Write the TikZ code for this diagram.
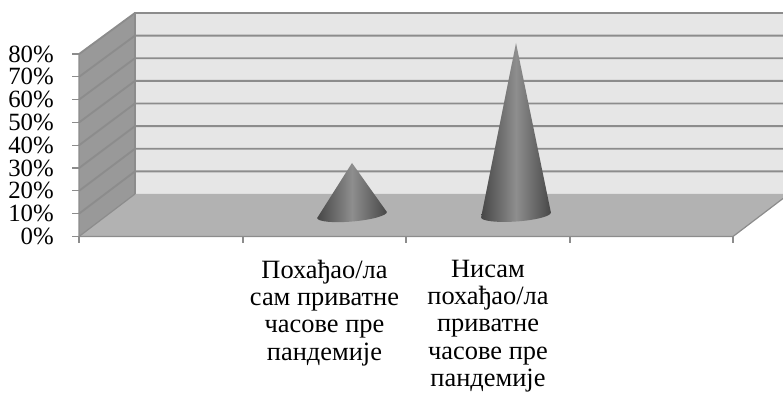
\documentclass[tikz,border=0pt]{standalone}
\usepackage{fontspec}
\setmainfont{Liberation Serif}
\definecolor{backwall}{HTML}{E6E6E6}
\definecolor{sidewall}{HTML}{999999}
\definecolor{floorgray}{HTML}{B2B2B2}
\definecolor{gridgray}{HTML}{8C8C8C}
\definecolor{conedark}{HTML}{474747}
\definecolor{conelight}{HTML}{8E8E8E}
\tikzset{
	gridline/.style={draw=gridgray,line width=1.4pt},
	axisline/.style={draw=gridgray,line width=0.9pt},
	cone/.style={left color=conedark,right color=conedark,middle color=conelight,shading angle=90},
	ylabel/.style={anchor=east,inner sep=0pt,font=\fontsize{18.6}{20}\selectfont},
	catlabel/.style={anchor=north,inner sep=0pt,align=center,font=\fontsize{19.8}{20.4}\selectfont}
}

\begin{document}
\begin{tikzpicture}[x=0.75pt,y=-0.75pt]
		\useasboundingbox (0,0) rectangle (783,406);
		% Walls and floor.
		\coordinate (fb) at (79,236.5);
		\coordinate (ft) at (79,54);
		\coordinate (bb) at (135,194);
		\coordinate (bt) at (135,13);
		\coordinate (rb) at (783,194);
		\coordinate (rt) at (783,13);
		\coordinate (fr) at (733,236.5);
		\coordinate (er) at (783,198.5);
		\fill[backwall] (bb) -- (bt) -- (rt) -- (rb) -- cycle;
		\fill[sidewall] (fb) -- (ft) -- (bt) -- (bb) -- cycle;
		\fill[floorgray] (fb) -- (bb) -- (rb) -- (er) -- (fr) -- cycle;
		
		% Grid lines and tick labels.
		\foreach \i in {1,...,8} {
			\draw[gridline] (79,236.5-22.8*\i) -- (135,194-22.63*\i) -- (783,194-22.63*\i);
		}
		\foreach \i in {0,...,8} {
			\draw[axisline] (72,236.5-22.8*\i) -- (79,236.5-22.8*\i);
			\pgfmathtruncatemacro{\pct}{10*\i}
			\node[ylabel] (y\i) at (54,236.5-22.8*\i) {\pct\%};
		}
		\draw[axisline] (bb) -- (bt) -- (rt);
		\draw[axisline] (ft) -- (fb) -- (fr) -- (er);
		\draw[axisline] (fb) -- (bb);
		\foreach \x in {79,243,406,570,733} {
			\draw[axisline] (\x,236.5) -- (\x,243.5);
		}
		
		% Cones.
		\coordinate[] (p1) at (352,163);
		\coordinate[] (p2) at (516,43);
		\begin{scope}[shift={(352,215)},rotate=5]
			\shade[cone] (p1) -- (-35,0) arc[start angle=180,end angle=0,x radius=35,y radius=6.5] -- cycle;
		\end{scope}
		\begin{scope}[shift={(516,215)},rotate=4]
			\shade[cone] (p2) -- (-35,0) arc[start angle=180,end angle=0,x radius=35,y radius=6.5] -- cycle;
		\end{scope}
		
		% Category labels.
		\node[catlabel] (c1) at (324.5,260) {Похађао/ла\\сам приватне\\часове пре\\пандемије};
		\node[catlabel] (c2) at (488,260) {Нисам\\похађао/ла\\приватне\\часове пре\\пандемије};
	\end{tikzpicture}
\end{document}
